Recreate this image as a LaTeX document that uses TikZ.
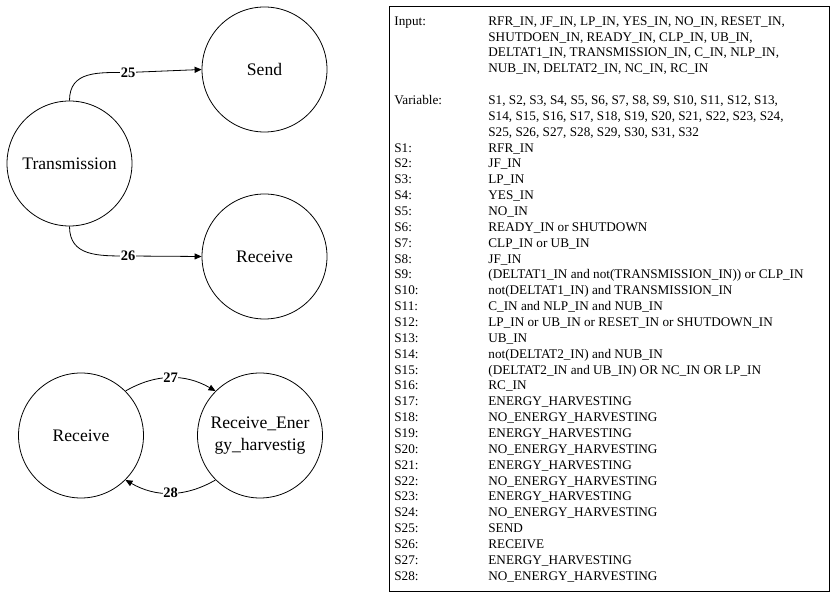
\documentclass[tikz,border=0pt]{standalone}
\usepackage{fontspec}
\setmainfont{Liberation Serif}
\usetikzlibrary{positioning,arrows.meta}
\begin{document}
\begin{tikzpicture}[x=1pt, y=1pt, on grid, line width=0.8pt, >={Triangle[length=7pt,width=6pt]},
   state/.style={circle, draw, minimum size=125pt, inner sep=0pt, align=center, font=\fontsize{17.6}{21.2}\selectfont},
   lbl/.style={fill=white, inner sep=0.5pt, font=\bfseries\fontsize{14.5}{14.5}\selectfont}]
   \useasboundingbox (0,0) rectangle (840,599);
   \node[state] (trans) at (69.5,435.5)                   {Transmission};
   \node[state] (send)  [above right=94pt and 195pt of trans] {Send};
   \node[state] (recvT) [below right=93pt and 195pt of trans] {Receive};
   \node[state] (recvB) at (81,163.5)                      {Receive};
   \node[state] (harv)  [right=179pt of recvB]             {Receive\_Ener\\gy\_harvestig};
   \coordinate (c25) at (128,526.5);
   \coordinate (c26) at (128,343);
   \draw[->] (trans.north) .. controls +(0,30) and +(-30,0) .. (c25) -- (send.west);
   \draw[->] (trans.south) .. controls +(0,-30) and +(-30,0) .. (c26) -- (recvT.west);
   \node[lbl] (l25) at (c25) {25};
   \node[lbl] (l26) at (c26) {26};
   \draw[->] (recvB.45) to[bend left=30] node[lbl] (l27) {27} (harv.135);
   \draw[->] (harv.225) to[bend left=30] node[lbl] (l28) {28} (recvB.315);
   \node[draw, anchor=south west, inner sep=0pt, minimum width=440pt, minimum height=584.7pt] (legend) at (389,7.3) {};
   \node[anchor=north west, inner sep=0pt, font=\fontsize{13.2}{15.86}\selectfont] (legtext)
      at ([xshift=5pt,yshift=-7.5pt]legend.north west) {%
   \begin{tabular}{@{}p{94pt}@{}l@{}}
   Input:    & RFR\_IN, JF\_IN, LP\_IN, YES\_IN, NO\_IN, RESET\_IN,\\
             & SHUTDOEN\_IN, READY\_IN, CLP\_IN, UB\_IN,\\
             & DELTAT1\_IN, TRANSMISSION\_IN, C\_IN, NLP\_IN,\\
             & NUB\_IN, DELTAT2\_IN, NC\_IN, RC\_IN\\
             & \\
   Variable: & S1, S2, S3, S4, S5, S6, S7, S8, S9, S10, S11, S12, S13,\\
             & S14, S15, S16, S17, S18, S19, S20, S21, S22, S23, S24,\\
             & S25, S26, S27, S28, S29, S30, S31, S32\\
   S1:  & RFR\_IN\\
   S2:  & JF\_IN\\
   S3:  & LP\_IN\\
   S4:  & YES\_IN\\
   S5:  & NO\_IN\\
   S6:  & READY\_IN or SHUTDOWN\\
   S7:  & CLP\_IN or UB\_IN\\
   S8:  & JF\_IN\\
   S9:  & (DELTAT1\_IN and not(TRANSMISSION\_IN)) or CLP\_IN\\
   S10: & not(DELTAT1\_IN) and TRANSMISSION\_IN\\
   S11: & C\_IN and NLP\_IN and NUB\_IN\\
   S12: & LP\_IN or UB\_IN or RESET\_IN or SHUTDOWN\_IN\\
   S13: & UB\_IN\\
   S14: & not(DELTAT2\_IN) and NUB\_IN\\
   S15: & (DELTAT2\_IN and UB\_IN) OR NC\_IN OR LP\_IN\\
   S16: & RC\_IN\\
   S17: & ENERGY\_HARVESTING\\
   S18: & NO\_ENERGY\_HARVESTING\\
   S19: & ENERGY\_HARVESTING\\
   S20: & NO\_ENERGY\_HARVESTING\\
   S21: & ENERGY\_HARVESTING\\
   S22: & NO\_ENERGY\_HARVESTING\\
   S23: & ENERGY\_HARVESTING\\
   S24: & NO\_ENERGY\_HARVESTING\\
   S25: & SEND\\
   S26: & RECEIVE\\
   S27: & ENERGY\_HARVESTING\\
   S28: & NO\_ENERGY\_HARVESTING\\
   \end{tabular}};
\end{tikzpicture}
\end{document}
